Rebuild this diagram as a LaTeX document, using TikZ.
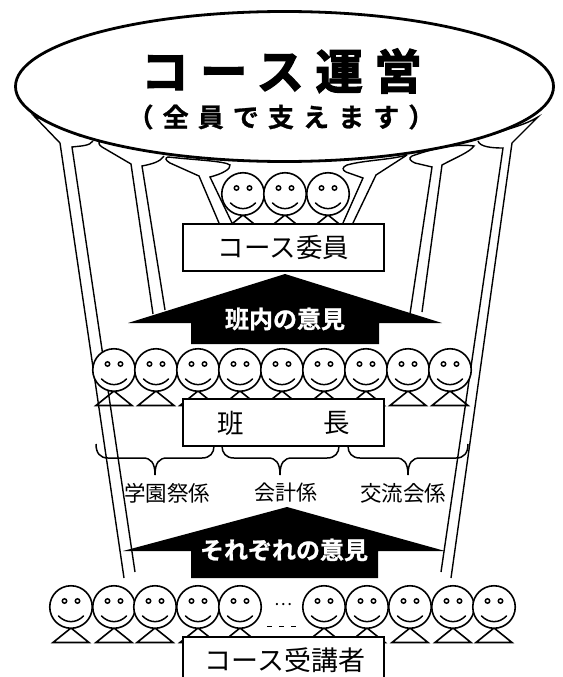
\documentclass[tikz,border=0pt]{standalone}
\usepackage{fontspec}
\usetikzlibrary{shapes.geometric}
\setmainfont{Noto Sans CJK JP}
\newcommand{\fsz}[1]{\fontsize{#1}{#1}\selectfont}
\newcommand{\person}[3]{%
  \draw[body] (#2,#3+21) -- (#2-18,#3+35.5) -- (#2+18,#3+35.5) -- cycle;
  \node[head] (#1) at (#2,#3) {};
  \draw[eye] (#2-6.5,#3-6) circle (2.2);
  \draw[eye] (#2+6.5,#3-6) circle (2.2);
  \draw[smile] (#2-12.5,#3+9) .. controls (#2-5,#3+16.5) and (#2+5,#3+16.5) .. (#2+12.5,#3+9);
}
\tikzset{
  x=1pt,y=-1pt,
  head/.style={circle,draw=black,fill=white,line width=1.6pt,minimum size=42.5pt,inner sep=0pt},
  body/.style={draw=black,line width=1.6pt,line join=miter},
  eye/.style={draw=black,fill=white,line width=1.5pt},
  smile/.style={draw=black,line width=1.5pt,line cap=round},
  arm/.style={draw=black,line width=1.4pt,line join=miter},
  labelbox/.style={draw=black,fill=white,line width=1.7pt,minimum width=201pt,inner sep=0pt},
  bigarrow/.style={fill=black,draw=none},
  brace/.style={draw=black,line width=1.5pt},
}
\begin{document}
\begin{tikzpicture}
\useasboundingbox (0,0) rectangle (562,677);
\clip (0,0) rectangle (562,677);
% arms: left
\draw[arm] (124,578) -- (60,143) -- (34,116) .. controls (48,122) and (62,127) .. (80,136);
\draw[arm] (135,572) -- (72,147) .. controls (80,146) and (90,146) .. (93,141);
\draw[arm] (153,314) -- (131,164) -- (102,147) .. controls (99,145) and (98,143) .. (100,140);
\draw[arm] (165,310) -- (142,166) .. controls (152,164) and (160,162) .. (164,156);
\draw[arm] (219,223) -- (199,176) -- (170,163) .. controls (165,160) and (165,158) .. (168,157) .. controls (195,160) and (225,161) .. (230,165) .. controls (231,169) and (222,174) .. (210,177) -- (232,223);
% arms: right
\draw[arm] (451,578) -- (512,143) -- (538,117) .. controls (525,125) and (510,128) .. (494,134);
\draw[arm] (441,572) -- (503,148) .. controls (492,148) and (480,147) .. (478,141);
\draw[arm] (410,314) -- (432,167) -- (415,163) .. controls (410,161) and (408,158) .. (412,156);
\draw[arm] (422,312) -- (442,165) .. controls (455,158) and (470,152) .. (474,146) .. controls (460,144) and (440,146) .. (412,156);
\draw[arm] (343,223) -- (363,178) -- (346,172) .. controls (342,170) and (342,167) .. (347,165) .. controls (365,160) and (390,160) .. (407,155);
\draw[arm] (353,223) -- (376,175) -- (407,155);
% platform
\node[ellipse,draw=black,fill=white,line width=2.8pt,minimum width=538pt,minimum height=150pt,inner sep=0pt] (top) at (284.5,86.5) {};
\node[inner sep=0pt] (title) at (281.5,71) {\fontspec[LetterSpace=24,FakeBold=2.5]{Noto Sans CJK JP Bold}\fsz{47.5}コース運営};
\node[inner sep=0pt] (sub) at (281,117) {\fontspec[LetterSpace=35,FakeBold=1]{Noto Sans CJK JP Bold}\fsz{26}（全員で支えます）};
% top row
\person{a1}{243}{194}
\person{a2}{285}{194}
\person{a3}{328}{194}
\node[labelbox,minimum height=47pt] (iin) at (283.5,247.5) {\fsz{26.5}コース委員};
% arrow 1
\path[bigarrow] (285,274) -- (442,323) -- (379,323) -- (379,344) -- (191,344) -- (191,323) -- (128,323) -- cycle;
\node[inner sep=0pt,text=white] (a1txt) at (285,319) {\fontspec[FakeBold=1]{Noto Sans CJK JP Bold}\fsz{24}班内の意見};
% middle row
\person{b1}{114}{370}
\person{b2}{156}{370}
\person{b3}{198}{370}
\person{b4}{240}{370}
\person{b5}{282}{370}
\person{b6}{324}{370}
\person{b7}{366}{370}
\person{b8}{408}{370}
\person{b9}{450}{370}
\node[labelbox,minimum height=47pt] (han) at (283.5,422.5) {};
\node[inner sep=0pt] (han1) at (231,423) {\fsz{26.5}班};
\node[inner sep=0pt] (han2) at (337,423) {\fsz{26.5}長};
% braces
\draw[brace] (96,444) .. controls (96,453) and (100,458) .. (108,458) -- (143,458) .. controls (151,458) and (155,463) .. (155,475) .. controls (155,463) and (159,458) .. (167,458) -- (202,458) .. controls (210,458) and (214,453) .. (214,446);
\draw[brace] (222,446) .. controls (222,453) and (226,458) .. (234,458) -- (268,458) .. controls (276,458) and (280,463) .. (280,475) .. controls (280,463) and (284,458) .. (292,458) -- (327,458) .. controls (335,458) and (339,453) .. (339,446);
\draw[brace] (348,446) .. controls (348,453) and (352,458) .. (360,458) -- (396,458) .. controls (404,458) and (408,463) .. (408,475) .. controls (408,463) and (412,458) .. (420,458) -- (456,458) .. controls (464,458) and (468,453) .. (468,444);
\node[inner sep=0pt] (g1) at (167,493) {\fsz{21.5}学園祭係};
\node[inner sep=0pt] (g2) at (286,493) {\fsz{21}会計係};
\node[inner sep=0pt] (g3) at (403,493) {\fsz{21.5}交流会係};
% arrow 2
\path[bigarrow] (287,507) -- (445,551) -- (378,551) -- (378,578) -- (191,578) -- (191,551) -- (123,551) -- cycle;
\node[inner sep=0pt,text=white] (a2txt) at (284,550) {\fontspec[FakeBold=1]{Noto Sans CJK JP Bold}\fsz{24}それぞれの意見};
% bottom row
\person{c1}{71}{607}
\person{c2}{114}{607}
\person{c3}{155}{607}
\person{c4}{198}{607}
\person{c5}{240}{607}
\person{c6}{324}{607}
\person{c7}{367}{607}
\person{c8}{410}{607}
\person{c9}{453}{607}
\person{c10}{494}{607}
\node[inner sep=0pt] (dots) at (283,605) {\fsz{17}…};
\coordinate (d1) at (267,626);
\coordinate (d2) at (298,626);
\draw[line width=1pt,dash pattern=on 5pt off 7pt] (d1) -- (d2);
\node[labelbox,minimum height=60pt,anchor=north] (jk) at (283.5,636) {};
\node[inner sep=0pt] (jktxt) at (285,660) {\fsz{27}コース受講者};
\end{tikzpicture}
\end{document}
